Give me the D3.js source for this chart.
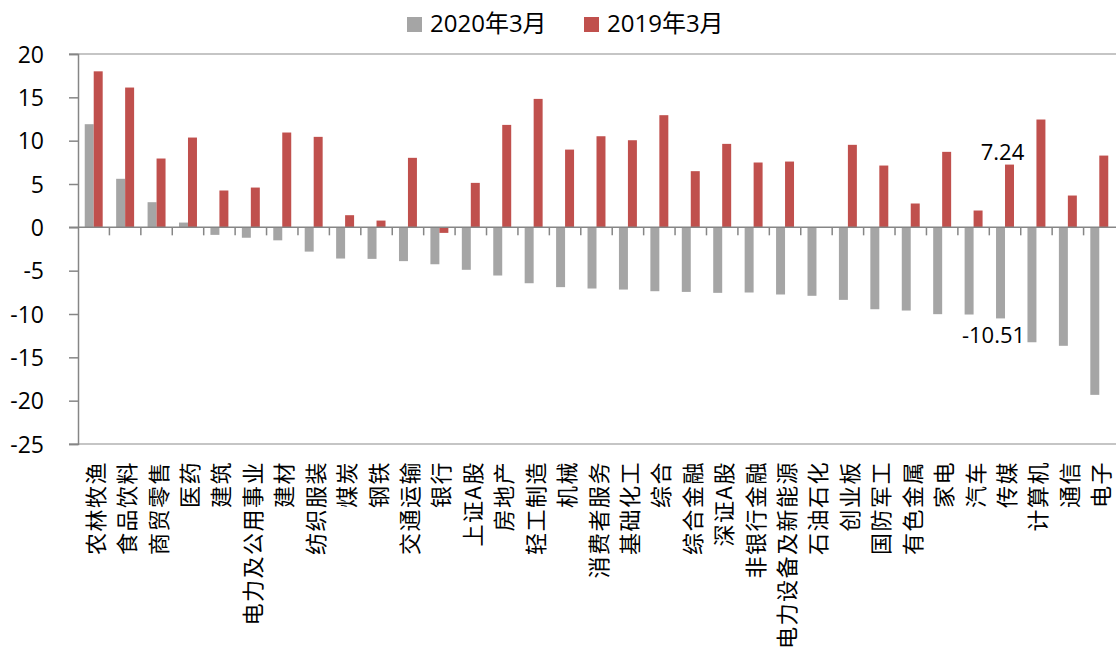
<!DOCTYPE html>
<html>
<head>
<meta charset="utf-8">
<script src="https://cdn.jsdelivr.net/npm/d3@7"></script>
<style>
  body { margin: 0; background: #fff; }
  svg { display: block; }
  text { font-family: "Open Sans", "Noto Sans CJK SC", sans-serif; fill: #000; }
</style>
</head>
<body>
<div id="chart"></div>
<script>
// categories (industries), left to right
var categories = ["农林牧渔", "食品饮料", "商贸零售", "医药", "建筑", "电力及公用事业", "建材", "纺织服装",
  "煤炭", "钢铁", "交通运输", "银行", "上证A股", "房地产", "轻工制造", "机械", "消费者服务", "基础化工",
  "综合", "综合金融", "深证A股", "非银行金融", "电力设备及新能源", "石油石化", "创业板", "国防军工",
  "有色金属", "家电", "汽车", "传媒", "计算机", "通信", "电子"];

// 2020年3月 values
var v2020 = [11.9, 5.6, 2.9, 0.55, -0.87, -1.2, -1.5, -2.8, -3.6, -3.64, -3.9, -4.26, -4.9, -5.56, -6.45,
  -6.9, -7.06, -7.18, -7.37, -7.45, -7.56, -7.52, -7.75, -7.9, -8.37, -9.45, -9.6, -10.02, -10.06, -10.51,
  -13.26, -13.67, -19.33];

// 2019年3月 values
var v2019 = [18.0, 16.13, 7.94, 10.36, 4.25, 4.59, 10.94, 10.44, 1.4, 0.78, 8.02, -0.64, 5.13, 11.82, 14.82,
  8.97, 10.51, 10.05, 12.94, 6.48, 9.63, 7.48, 7.59, 0, 9.52, 7.13, 2.75, 8.71, 1.94, 7.24, 12.44, 3.67, 8.28];

var seriesNames = ["2020年3月", "2019年3月"];
var seriesColors = ["#A5A5A5", "#C0504D"];
var yTicks = [20, 15, 10, 5, 0, -5, -10, -15, -20, -25];

// labelled points: [series index, category]
var labelled = [[1, "传媒"], [0, "传媒"]];

var W = 1116, H = 650;
var m = { left: 78, right: 1, top: 54, bottom: 206 };

var svg = d3.select("#chart").append("svg")
    .attr("width", W)
    .attr("height", H);

var x = d3.scaleBand()
    .domain(categories)
    .range([m.left, W - m.right]);

var x1 = d3.scaleBand()
    .domain(d3.range(seriesNames.length))
    .range([0, x.bandwidth()])
    .paddingOuter(0.75);

var y = d3.scaleLinear()
    .domain([-25, 20])
    .range([H - m.bottom, m.top]);

//plot area border (top and bottom)
[20, -25].forEach(function (v) {
    svg.append("line")
        .attr("x1", m.left - 9)
        .attr("x2", W)
        .attr("y1", y(v))
        .attr("y2", y(v))
        .attr("stroke", "#b2b2b2")
        .attr("stroke-width", 1.5);
});

//bars
var rows = categories.map(function (c, i) { return { cat: c, vals: [v2020[i], v2019[i]] }; });

var groups = svg.append("g")
    .selectAll("g")
    .data(rows)
    .enter().append("g")
    .attr("transform", function (d) { return "translate(" + x(d.cat) + ",0)"; });

groups.selectAll("rect")
    .data(function (d) { return d.vals.map(function (v, k) { return { k: k, v: v }; }); })
    .enter().append("rect")
    .attr("x", function (d) { return x1(d.k); })
    .attr("width", x1.bandwidth())
    .attr("y", function (d) { return y(Math.max(0, d.v)); })
    .attr("height", function (d) { return Math.abs(y(d.v) - y(0)); })
    .attr("fill", function (d) { return seriesColors[d.k]; });

//y axis
var yAxis = d3.axisLeft(y)
    .tickValues(yTicks)
    .tickSize(9)
    .tickPadding(25)
    .tickFormat(d3.format("d"));

var gy = svg.append("g")
    .attr("transform", "translate(" + m.left + ",0)")
    .call(yAxis);
gy.select(".domain").attr("stroke", "#868686").attr("stroke-width", 1.5);
gy.selectAll(".tick line").attr("stroke", "#868686").attr("stroke-width", 1.5);
gy.selectAll(".tick text")
    .style("font-size", "23px")
    .attr("dy", "0.35em")
    .text(function (d) { return d < 0 ? "-" + Math.abs(d) : d; });

//category axis on the zero line
svg.append("line")
    .attr("x1", m.left - 9)
    .attr("x2", W)
    .attr("y1", y(0))
    .attr("y2", y(0))
    .attr("stroke", "#868686")
    .attr("stroke-width", 1.5);

svg.append("g")
    .selectAll("line")
    .data(categories.slice(1))
    .enter().append("line")
    .attr("x1", function (d) { return x(d); })
    .attr("x2", function (d) { return x(d); })
    .attr("y1", y(0))
    .attr("y2", y(0) + 8)
    .attr("stroke", "#868686")
    .attr("stroke-width", 1.5);

//category labels, rotated
svg.append("g")
    .selectAll("text")
    .data(categories)
    .enter().append("text")
    .attr("transform", function (d) {
        return "translate(" + (x(d) + x.bandwidth() / 2) + "," + (y(-25) + 17) + ") rotate(-90)";
    })
    .attr("text-anchor", "end")
    .attr("dominant-baseline", "central")
    .style("font-family", "'Noto Sans CJK SC', sans-serif")
    .style("font-size", "22px")
    .style("letter-spacing", "1.5px")
    .text(function (d) { return d; });

//data labels
labelled.forEach(function (p) {
    var k = p[0], i = categories.indexOf(p[1]);
    var v = k === 0 ? v2020[i] : v2019[i];
    var cx = x(p[1]) + x1(k) + x1.bandwidth() / 2;
    svg.append("text")
        .attr("x", cx - 7)
        .attr("y", v >= 0 ? y(v) - 5 : y(v) + 25)
        .attr("text-anchor", "middle")
        .style("font-size", "22px")
        .text(v.toFixed(2));
});

//legend
var legend = svg.append("g")
    .selectAll("g")
    .data(seriesNames)
    .enter().append("g")
    .attr("transform", function (d, i) { return "translate(" + (407 + i * 177) + ",17)"; });

legend.append("rect")
    .attr("width", 15)
    .attr("height", 15)
    .attr("fill", function (d, i) { return seriesColors[i]; });

legend.append("text")
    .attr("x", 23)
    .attr("y", 15)
    .style("font-size", "24px")
    .text(function (d) { return d; });
</script>
</body>
</html>
